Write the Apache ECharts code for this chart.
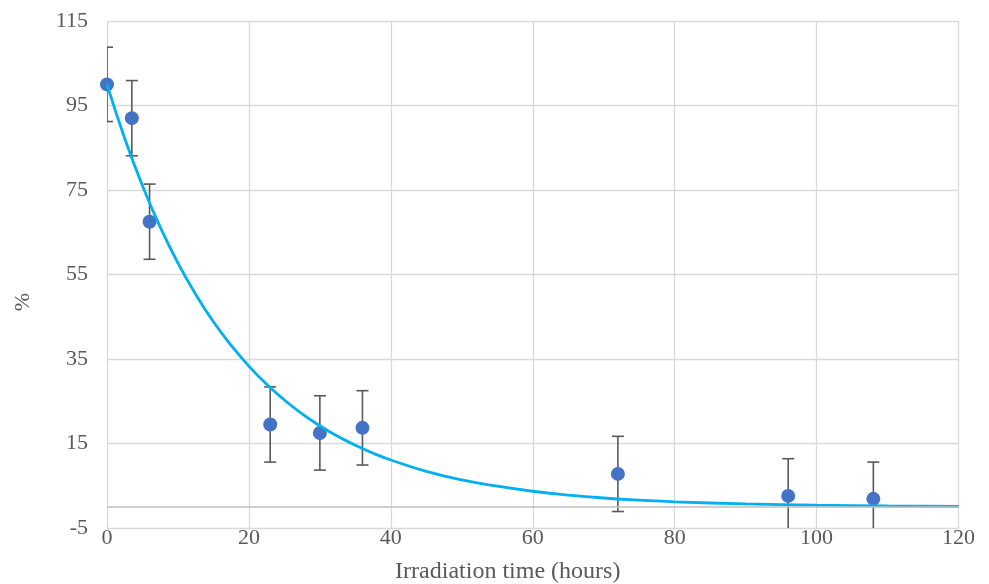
<!DOCTYPE html>
<html>
<head>
<meta charset="utf-8">
<script src="https://cdn.jsdelivr.net/npm/echarts@6/dist/echarts.min.js"></script>
<style>html,body{margin:0;padding:0;background:#fff;}#chart{width:989px;height:584px;}</style>
</head>
<body>
<div id="chart"></div>
<script>
// Measured data points
const timeHours = [0, 3.5, 6, 23, 30, 36, 72, 96, 108];
const percentValues = [100, 92, 67.5, 19.5, 17.5, 18.7, 7.8, 2.6, 1.9];
const errorValues = [8.8, 8.9, 8.9, 8.9, 8.8, 8.8, 8.9, 8.8, 8.7];
// Fitted curve
const fitX = [0, 2.5, 5, 7.5, 10, 12.5, 15, 17.5, 20, 22.5, 25, 27.5, 30, 32.5, 35, 37.5, 40, 45, 50, 55, 60, 65, 70, 75, 80, 90, 100, 110, 120];
const fitY = [100, 87.2, 76.0, 66.2, 57.7, 50.3, 43.8, 38.2, 33.3, 29.0, 25.3, 22.0, 19.2, 16.7, 14.6, 12.7, 11.1, 8.4, 6.4, 4.9, 3.7, 2.8, 2.1, 1.6, 1.2, 0.7, 0.4, 0.24, 0.14];
// Axis settings
const xTickMin = 0, xTickMax = 120, xTickStep = 20;
const yTickMin = -5, yTickMax = 115, yTickStep = 20;

const points = timeHours.map((t, i) => [t, percentValues[i]]);
const errData = timeHours.map((t, i) => [t, percentValues[i] - errorValues[i], percentValues[i] + errorValues[i]]);
const fitData = fitX.map((x, i) => [x, fitY[i]]);

const textColor = '#595959';
const font = 'Liberation Serif, Times New Roman, serif';

const chart = echarts.init(document.getElementById('chart'));
chart.setOption({
  backgroundColor: '#ffffff',
  animation: false,
  grid: { left: 107, right: 30.5, top: 21, bottom: 56, containLabel: false, outerBoundsMode: 'none' },
  xAxis: {
    type: 'value', min: xTickMin, max: xTickMax, interval: xTickStep,
    name: 'Irradiation time (hours)', nameLocation: 'middle', nameGap: 32,
    nameTextStyle: { color: textColor, fontFamily: font, fontSize: 24, padding: [0, 50, 0, 0] },
    axisLine: { show: false },
    axisTick: { show: false },
    axisLabel: { color: textColor, fontFamily: font, fontSize: 22, margin: -1 },
    splitLine: { show: true, lineStyle: { color: '#D9D9D9', width: 1.3 } }
  },
  yAxis: {
    type: 'value', min: yTickMin, max: yTickMax, interval: yTickStep,
    axisLine: { show: false },
    axisTick: { show: false },
    axisLabel: { color: textColor, fontFamily: font, fontSize: 22, margin: 19 },
    splitLine: { show: true, lineStyle: { color: '#D9D9D9', width: 1.3 } }
  },
  graphic: [{
    type: 'text', x: 23, y: 302, rotation: Math.PI / 2,
    style: { text: '%', fill: textColor, font: '22px ' + font, align: 'center', verticalAlign: 'middle' }
  }],
  series: [
    {
      type: 'custom',
      clip: true,
      z: 2,
      data: errData,
      renderItem: function (params, api) {
        const x = api.value(0);
        const lo = api.coord([x, api.value(1)]);
        const hi = api.coord([x, api.value(2)]);
        const cap = 6;
        const st = { stroke: '#595959', lineWidth: 1.6 };
        return {
          type: 'group',
          children: [
            { type: 'line', shape: { x1: lo[0], y1: lo[1], x2: hi[0], y2: hi[1] }, style: st },
            { type: 'line', shape: { x1: lo[0] - cap, y1: lo[1], x2: lo[0] + cap, y2: lo[1] }, style: st },
            { type: 'line', shape: { x1: hi[0] - cap, y1: hi[1], x2: hi[0] + cap, y2: hi[1] }, style: st }
          ]
        };
      }
    },
    {
      type: 'scatter',
      z: 3,
      data: points,
      symbol: 'circle',
      symbolSize: 14,
      itemStyle: { color: '#4472C4', opacity: 1 },
      markLine: {
        silent: true, symbol: 'none', label: { show: false },
        lineStyle: { color: '#BFBFBF', width: 1.5, type: 'solid' },
        data: [{ yAxis: 0 }]
      }
    },
    {
      type: 'line',
      z: 4,
      data: fitData,
      smooth: true,
      showSymbol: false,
      lineStyle: { color: '#00B0F0', width: 2.8 },
      itemStyle: { color: '#00B0F0' }
    }
  ]
});
</script>
</body>
</html>
